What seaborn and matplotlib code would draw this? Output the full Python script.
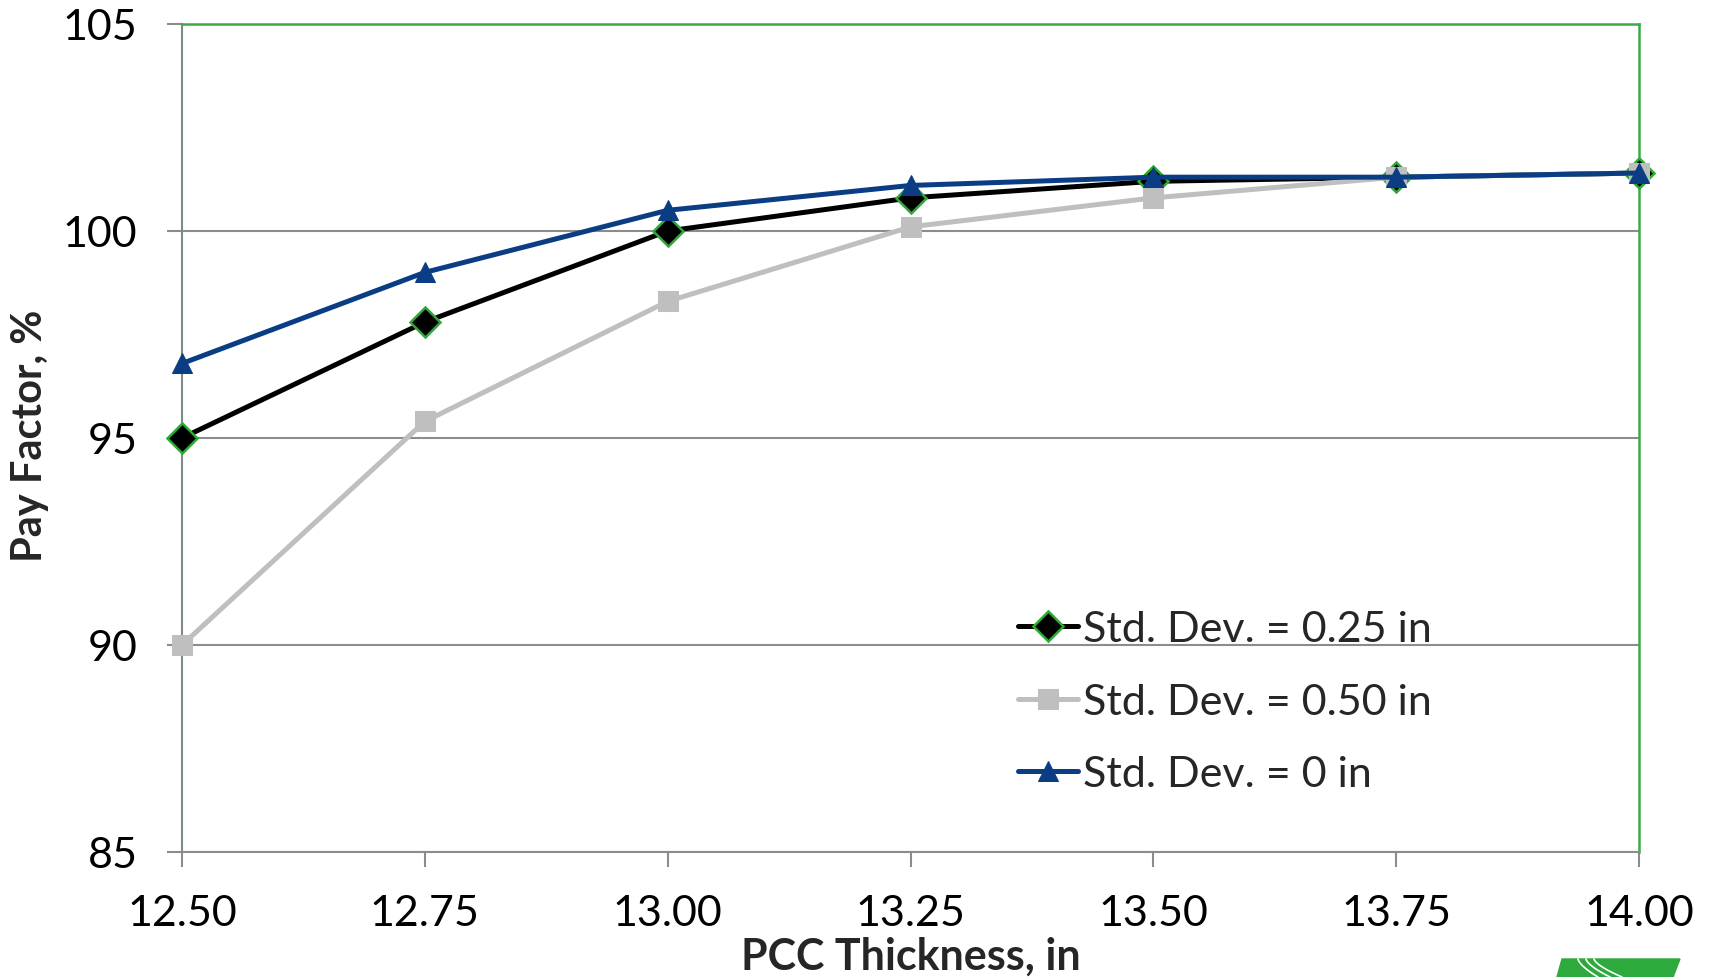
import matplotlib
matplotlib.use("Agg")
import matplotlib.pyplot as plt
import seaborn as sns
import numpy as np
from matplotlib.patches import Polygon
from matplotlib.lines import Line2D

thickness = [12.50, 12.75, 13.00, 13.25, 13.50, 13.75, 14.00]
sd_025 = [95.0, 97.8, 100.0, 100.8, 101.2, 101.3, 101.4]
sd_050 = [90.0, 95.4, 98.3, 100.1, 100.8, 101.3, 101.4]
sd_000 = [96.8, 99.0, 100.5, 101.1, 101.3, 101.3, 101.4]
labels = ["Std. Dev. = 0.25 in", "Std. Dev. = 0.50 in", "Std. Dev. = 0 in"]
yticks = [85, 90, 95, 100, 105]

sns.set_theme(style="white")
plt.rcParams['font.family'] = ['Lato', 'DejaVu Sans']

fig = plt.figure(figsize=(17.09, 9.78), dpi=100)
ax = fig.add_axes([182/1709, 1-853/978, (1639-182)/1709, (853-25)/978])

green = "#3DAA46"
sns.lineplot(x=thickness, y=sd_025, ax=ax, color="black", lw=3.6, marker="D",
             markersize=15, markerfacecolor="black", markeredgecolor="#2EA836",
             markeredgewidth=1.8, label=labels[0], clip_on=False, zorder=3)
sns.lineplot(x=thickness, y=sd_050, ax=ax, color="#BFBFBF", lw=3.6, marker="s",
             markersize=14, markerfacecolor="#BFBFBF", markeredgecolor="#BFBFBF",
             label=labels[1], clip_on=False, zorder=4)
sns.lineplot(x=thickness, y=sd_000, ax=ax, color="#0A3D84", lw=3.6, marker="^",
             markersize=15, markerfacecolor="#0A3D84", markeredgecolor="#0A3D84",
             label=labels[2], clip_on=False, zorder=5)

ax.set_xlim(12.5, 14.0)
ax.set_ylim(85, 105)
ax.set_xticks(thickness)
ax.set_xticklabels([f"{t:.2f}" for t in thickness])
ax.set_yticks(yticks)
ax.set_yticklabels([str(v) for v in yticks])
ax.yaxis.grid(True, color="#8C8C8C", lw=1.5)
ax.xaxis.grid(False)
ax.set_axisbelow(True)

for s in ["left", "bottom"]:
    ax.spines[s].set_color("#8C8C8C")
    ax.spines[s].set_linewidth(1.5)
for s in ["top", "right"]:
    ax.spines[s].set_color(green)
    ax.spines[s].set_linewidth(1.8)
ax.spines["left"].set_color("#7F8C86")

ax.tick_params(axis="both", which="major", direction="out", length=11, width=1.5,
               color="#8C8C8C", labelsize=31, labelcolor="black")
ax.tick_params(axis="x", pad=19, bottom=True)
ax.tick_params(axis="y", pad=21, left=True)

ax.set_xlabel("PCC Thickness, in", fontsize=31, fontweight="bold")
ax.xaxis.label.set_va("baseline")
ax.xaxis.set_label_coords(0.5, (853-970)/828)
ax.set_ylabel("Pay Factor, %", fontsize=30, fontweight="bold")
ax.yaxis.label.set_va("center")
ax.yaxis.label.set_ha("center")
ax.yaxis.set_label_coords((29.5-182)/1457, (853-436)/828)

leg = ax.legend(loc="upper left", bbox_to_anchor=((1001-182)/1457, 1-(594-25)/828),
                frameon=False, fontsize=31, handlelength=1.4, handletextpad=0.1,
                labelspacing=0.8, borderaxespad=0)

# small green logo fragment at bottom right
logo = Polygon([[1562/1709, 1-960/978], [1680/1709, 1-960/978],
                [1673/1709, 0.0], [1557/1709, 0.0]],
               closed=True, transform=fig.transFigure, color="#2EAA3C")
fig.patches.append(logo)
for x0, x1 in [(1578, 1598), (1586, 1610), (1594, 1622)]:
    t = np.linspace(0, 1, 20)
    xs = (x0 + (x1 - x0) * t**1.5) / 1709
    ys = (1 - (960 + 18 * t) / 978)
    fig.lines.append(Line2D(xs, ys, transform=fig.transFigure, color="white", lw=1.2))

fig.savefig("out.png", dpi=100)
